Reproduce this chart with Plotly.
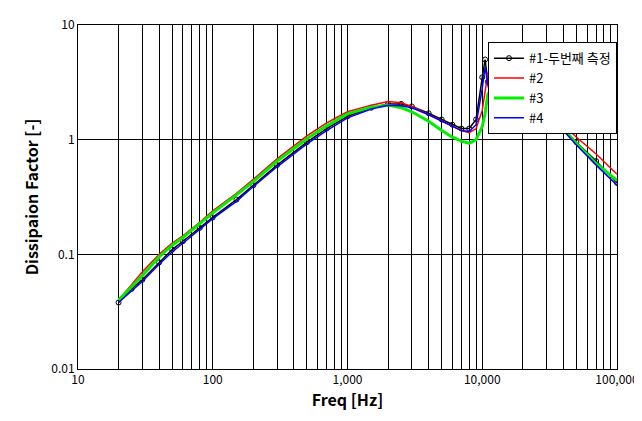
import plotly.graph_objects as go

freq = [20,25,30,40,50,60,80,100,150,200,300,500,700,1000,1500,2000,2500,3000,4000,5000,6000,7000,8000,9000,10000,10500,11000,12000,13000,14000,15000,17000,20000,25000,30000,40000,50000,70000,100000]
s1 = [0.038,0.05,0.06,0.085,0.11,0.13,0.17,0.21,0.3,0.4,0.6,0.95,1.25,1.6,1.9,2.05,2.05,1.95,1.7,1.5,1.35,1.25,1.25,1.5,3.5,5.0,3.2,2.0,1.6,1.5,1.6,1.8,1.95,1.85,1.6,1.25,0.95,0.65,0.42]
s2 = [0.04,0.055,0.07,0.1,0.125,0.145,0.19,0.24,0.34,0.45,0.68,1.08,1.4,1.75,2.0,2.15,2.1,1.95,1.65,1.45,1.3,1.2,1.15,1.25,1.8,2.6,3.8,4.0,2.4,1.7,1.55,1.75,1.95,1.9,1.7,1.35,1.05,0.75,0.5]
s3 = [0.04,0.052,0.065,0.095,0.12,0.14,0.185,0.23,0.33,0.43,0.65,1.02,1.32,1.68,1.92,2.0,1.9,1.75,1.45,1.2,1.05,0.97,0.93,1.0,1.3,1.7,2.5,2.8,1.8,1.3,1.25,1.5,1.8,1.75,1.55,1.22,0.93,0.62,0.44]
s4 = [0.038,0.048,0.058,0.082,0.105,0.125,0.165,0.205,0.29,0.39,0.58,0.92,1.2,1.55,1.85,2.0,1.98,1.9,1.65,1.45,1.3,1.2,1.18,1.35,2.8,4.3,3.0,2.0,1.5,1.4,1.5,1.75,1.9,1.8,1.55,1.2,0.9,0.6,0.4]
names = ["#1-두번째 측정", "#2", "#3", "#4"]
xticks = [10, 100, 1000, 10000, 100000]
xticktext = ["10", "100", "1,000", "10,000", "100,000"]
yticks = [0.01, 0.1, 1, 10]
yticktext = ["0.01", "0.1", "1", "10"]

fig = go.Figure()
fig.add_trace(go.Scatter(x=freq, y=s1, name=names[0], mode="lines+markers", line=dict(color="black", width=1.5),
                         marker=dict(symbol="circle-open", size=5, color="black"), legendrank=1))
fig.add_trace(go.Scatter(x=freq, y=s2, name=names[1], mode="lines", line=dict(color="#ff0000", width=1.5), legendrank=2))
fig.add_trace(go.Scatter(x=freq, y=s3, name=names[2], mode="lines", line=dict(color="#00ee00", width=3), legendrank=3))
fig.add_trace(go.Scatter(x=freq, y=s4, name=names[3], mode="lines", line=dict(color="#0000ff", width=1.5), legendrank=4))
ax = dict(showline=True, linecolor="black", mirror=True, gridcolor="black", gridwidth=1, ticks="",
          zeroline=False, automargin=False, tickfont=dict(size=12))
fig.update_layout(
    width=642, height=421, paper_bgcolor="white", plot_bgcolor="white",
    margin=dict(l=70, r=33, t=17, b=60),
    font=dict(family="Noto Sans CJK KR, DejaVu Sans", size=13, color="black"),
    xaxis=dict(type="log", range=[1, 5], tickvals=xticks, ticktext=xticktext,
               title=dict(text="<b>Freq [Hz]</b>", standoff=5),
               minor=dict(showgrid=True, gridcolor="black", gridwidth=1, dtick="D1"), **ax),
    yaxis=dict(type="log", range=[-2, 1], tickvals=yticks, ticktext=yticktext,
               title=dict(text="<b>Dissipaion Factor [-]</b>", standoff=8), **ax),
    legend=dict(x=1.0, y=0.95, xanchor="right", yanchor="top", bgcolor="white",
                bordercolor="black", borderwidth=1, font=dict(size=13)),
    showlegend=True,
)
fig.write_html("out.html")
